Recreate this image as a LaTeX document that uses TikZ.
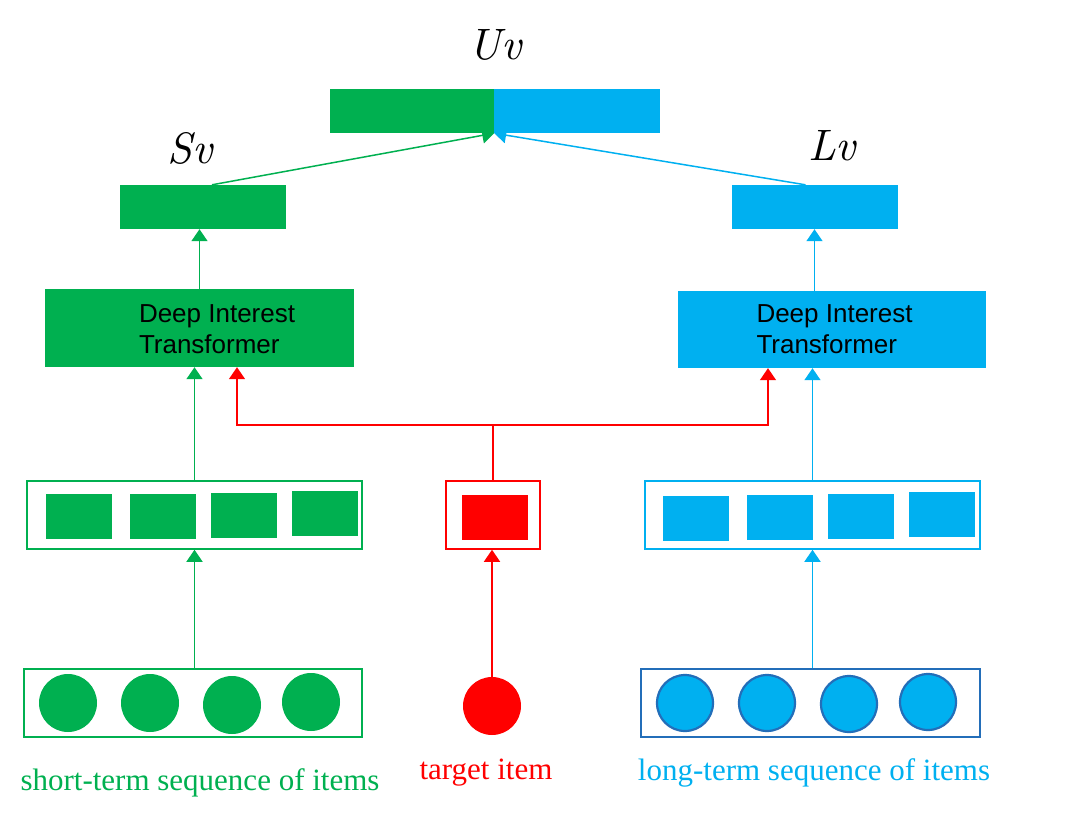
\documentclass[tikz,border=0pt]{standalone}
\usepackage{fontspec}
\setmainfont{Liberation Serif}
\setsansfont{Liberation Sans}
\newfontfamily\vecfont{lmroman10-italic}[Extension=.otf]
\usetikzlibrary{arrows.meta,positioning,calc}
\definecolor{sgr}{RGB}{0,176,80}
\definecolor{lbu}{RGB}{0,176,240}
\definecolor{tgt}{RGB}{255,0,0}
\definecolor{ring}{RGB}{35,110,185}
\tikzset{
  bar/.style={minimum width=166pt,minimum height=44pt,inner sep=0pt},
  dit/.style={minimum width=308pt,minimum height=77pt,inner sep=0pt},
  dittxt/.style={inner sep=0pt,align=left,text=black,
    font=\sffamily\fontsize{26}{31}\selectfont},
  frame/.style={draw,fill=white,line width=1.5pt,minimum width=336pt,
    minimum height=68pt,inner sep=0pt},
  emb/.style={minimum width=66pt,minimum height=45pt,inner sep=0pt},
  dot/.style={circle,minimum size=58pt,inner sep=0pt},
  vec/.style={font=\vecfont\fontsize{44}{50}\selectfont},
  itemcap/.style={inner sep=0pt,font=\fontsize{31}{36}\selectfont},
  arr/.style={-{Triangle[length=12pt,width=16pt]},line width=1.5pt},
}
\begin{document}
\begin{tikzpicture}[x=1pt,y=-1pt]
  \useasboundingbox (0,0) rectangle (1080,823);
  \node[bar,fill=sgr,minimum width=164pt] (uvS) at (412,111) {};
  \node[bar,fill=lbu,right=0pt of uvS] (uvL) {};
  \node[vec] (uv) at (495,45) {Uv};
  \node[bar,fill=sgr] (sv) at (203,207) {};
  \node[bar,fill=lbu] (lv) at (814.5,207) {};
  \node[vec] (svt) at (190,148) {Sv};
  \node[vec] (lvt) at (832,146) {Lv};
  \node[dit,fill=sgr,minimum width=309pt,minimum height=78pt] (ditS) at (199.5,328) {};
  \node[dit,fill=lbu] (ditL) at (831.5,329.5) {};
  \node[dittxt,right=94pt of ditS.west,yshift=-1pt] (ditStxt) {Deep Interest\\Transformer};
  \node[dittxt,right=79pt of ditL.west] (ditLtxt) {Deep Interest\\Transformer};
  \node[frame,draw=sgr,minimum width=335pt] (embS) at (194.5,515) {};
  \node[frame,draw=tgt,minimum width=94pt] (embT) at (493,515) {};
  \node[frame,draw=lbu,minimum width=335pt] (embL) at (812.5,515) {};
  \foreach \x/\y [count=\i] in {79/516,163/516,244/515,325/513}
    \node[emb,fill=sgr] (es\i) at (\x,\y) {};
  \node[emb,fill=tgt] (et) at (495,517) {};
  \foreach \x/\y [count=\i] in {696/518,780/517,861/516,942/514}
    \node[emb,fill=lbu] (el\i) at (\x,\y) {};
  \node[frame,draw=sgr,minimum width=338pt] (seqS) at (193,703) {};
  \node[frame,draw=ring,minimum width=339pt] (seqL) at (810.5,703) {};
  \foreach \x/\y [count=\i] in {68/703,150/703,232/705,311/702}
    \node[dot,fill=sgr] (cs\i) at (\x,\y) {};
  \node[dot,fill=tgt] (tgtdot) at (492,706) {};
  \foreach \x/\y [count=\i] in {685/703,767/703,849/704,928/702}
    \node[dot,fill=lbu,draw=ring,line width=2.2pt,minimum size=56pt] (cl\i) at (\x,\y) {};
  \node[itemcap,text=sgr] (capS) at (200,783) {short-term sequence of items};
  \node[itemcap,text=tgt] (capT) at (486,773) {target item};
  \node[itemcap,text=lbu] (capL) at (814,773) {long-term sequence of items};
  \draw[arr,sgr] (seqS.north -| embS.south) -- (embS.south);
  \draw[arr,tgt] (tgtdot.north) -- (tgtdot.north |- embT.south);
  \draw[arr,lbu] (seqL.north -| embL.south) -- (embL.south);
  \draw[arr,sgr] (embS.north) -- (ditS.south -| embS.north);
  \draw[arr,lbu] (embL.north) -- (ditL.south -| embL.north);
  \coordinate (fork) at (493,425);
  \draw[line width=1.5pt,tgt] (embT.north) -- (fork);
  \draw[arr,tgt] (fork) -| ([xshift=37.5pt]ditS.south);
  \draw[arr,tgt] (fork) -| ([xshift=-63.5pt]ditL.south);
  \draw[arr,sgr] (ditS.north) -- (ditS.north |- sv.south);
  \draw[arr,lbu] (lv.south |- ditL.north) -- (lv.south);
  \draw[arr,sgr] ([xshift=9pt]sv.north) -- (uvS.south east);
  \draw[arr,lbu] ([xshift=-9pt]lv.north) -- (uvL.south west);
\end{tikzpicture}
\end{document}
